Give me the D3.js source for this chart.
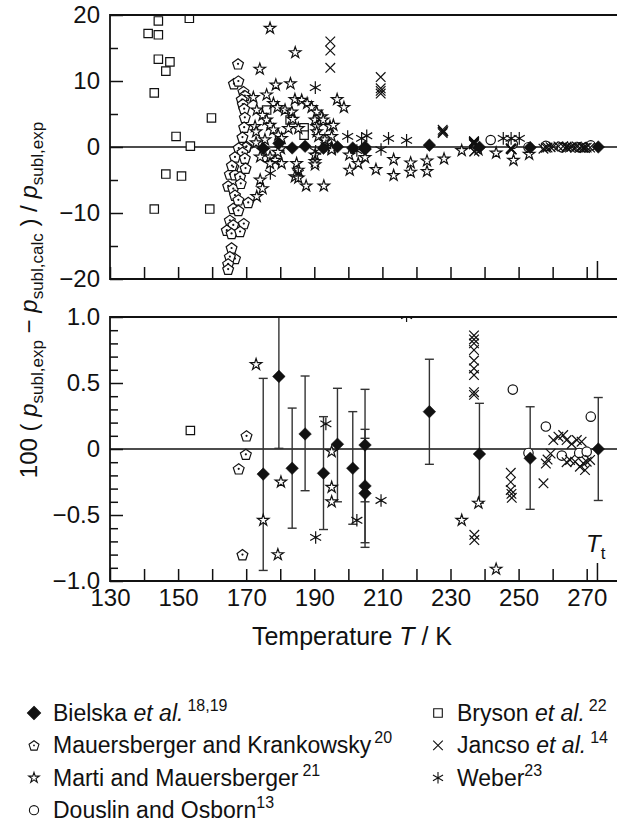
<!DOCTYPE html>
<html>
<head>
<meta charset="utf-8">
<script src="https://cdn.jsdelivr.net/npm/d3@7"></script>
<style>
  body { margin: 0; background: #fff; }
  svg text { font-family: "Liberation Sans", Arial, sans-serif; fill: #111; }
</style>
</head>
<body>
<div id="chart"></div>
<script>
// ---- data: [T / K, 100*(p_exp - p_calc)/p_exp] ----
// Bielska et al. with uncertainty: [T, value, low, high]
var bielska = [
  [175.0, -0.19, -0.92, 0.535], [179.6, 0.55, 0.005, 1.1], [183.5, -0.146, -0.60, 0.31],
  [187.3, 0.114, -0.316, 0.553], [192.7, -0.184, -0.61, 0.245], [196.8, 0.036, -0.40, 0.46],
  [201.3, -0.146, -0.57, 0.283], [204.9, 0.03, -0.40, 0.452], [204.9, -0.28, -0.71, 0.149],
  [204.9, -0.336, -0.745, 0.081], [223.8, 0.283, -0.116, 0.68], [238.5, -0.038, -0.41, 0.346],
  [253.4, -0.07, -0.457, 0.32], [273.4, 0.0, -0.39, 0.39]
];
var mauersberger = [
  [167.6, 12.6], [166.4, 9.6], [167.7, 10.0], [169.2, 8.4], [169.6, 7.8], [168.7, 7.2],
  [169.0, 6.5], [169.4, 5.8], [169.6, 4.5], [169.4, 3.0], [168.9, 1.5], [170.1, 0.1],
  [169.9, -0.04], [167.8, -0.15], [168.9, -0.8], [166.7, -1.5], [169.6, -1.7], [166.2, -3.0],
  [169.8, -3.2], [165.2, -4.1], [166.7, -4.2], [168.2, -4.5], [164.7, -5.9], [166.2, -6.3],
  [168.4, -5.5], [166.7, -7.3], [167.7, -8.0], [170.6, -8.4], [166.2, -9.3], [167.7, -9.6],
  [165.2, -11.1], [166.2, -11.8], [169.3, -11.6], [164.3, -12.6], [165.7, -13.1], [168.2, -12.8],
  [165.7, -15.3], [166.7, -16.9], [165.2, -16.6], [164.7, -17.7], [164.7, -18.5], [165.8, -2.8]
];
var marti = [
  [177.0, 18.0], [184.4, 14.3], [174.0, 11.8], [178.7, 9.4], [183.0, 9.6], [172.1, 7.5],
  [176.0, 7.9], [184.3, 7.2], [186.3, 7.1], [187.9, 6.6], [189.2, 6.0], [190.7, 5.3],
  [192.2, 4.6], [196.7, 7.2], [198.7, 6.0], [173.1, 5.6], [174.8, 4.8], [178.0, 6.6],
  [179.2, 6.0], [181.4, 5.6], [183.4, 5.3], [183.7, 4.2], [172.6, 3.1], [172.9, 2.3],
  [176.0, 4.1], [177.0, 3.3], [178.0, 2.6], [179.4, 1.8], [180.4, 1.3], [182.4, 2.8],
  [185.3, 2.8], [190.2, 4.1], [190.7, 3.1], [190.7, 2.3], [191.2, 1.6], [192.6, 4.1],
  [194.6, 3.1], [195.1, 1.6], [195.6, 3.3], [193.1, 1.1], [175.5, 1.1],
  [172.9, 0.64], [180.2, -0.25], [175.0, -0.54], [179.3, -0.80], [195.1, -0.02],
  [195.1, -0.29], [195.1, -0.40], [174.1, -1.5], [177.0, -1.5], [178.5, -2.0], [177.0, -2.5],
  [180.4, -2.5], [184.8, -2.5], [185.3, -3.5], [184.3, -4.5], [185.3, -4.7], [187.6, -5.9],
  [192.8, -5.9], [190.2, -1.2], [190.2, -2.2], [190.2, -2.7], [174.1, -5.0], [174.8, -6.3],
  [173.1, -7.5], [200.3, -1.2], [202.9, -2.5], [204.9, -1.6], [200.4, -3.5], [208.1, -3.4],
  [213.3, -1.9], [213.3, -4.3], [218.3, -2.4], [218.3, -3.8], [223.1, -2.1], [223.1, -3.7],
  [228.1, -1.8], [233.3, -0.54], [238.2, -0.41], [243.4, -0.91], [248.5, -2.0], [253.1, -1.1]
];
var douslin = [
  [241.8, 1.06], [248.3, 0.45], [252.9, -0.03], [258.0, 0.17], [262.7, -0.05],
  [267.8, -0.03], [270.0, -0.02], [271.2, 0.245]
];
var bryson = [
  [144.2, 19.1], [153.3, 19.5], [141.2, 17.2], [144.2, 17.0], [144.2, 13.3], [147.6, 12.9],
  [146.4, 11.5], [143.0, 8.2], [159.8, 4.4], [149.4, 1.6], [153.6, 0.14], [146.4, -4.1],
  [151.0, -4.4], [143.0, -9.4], [159.3, -9.4], [176.0, 5.6], [182.9, 4.1], [187.0, 2.9],
  [187.0, 1.8]
];
var jancso = [
  [194.7, 16.0], [194.7, 14.6], [194.7, 12.0], [209.5, 10.6], [209.5, 8.9], [209.5, 8.5],
  [209.5, 8.1], [227.7, 2.6], [227.7, 2.3], [227.7, 2.1], [227.9, 2.4],
  [236.9, 0.86], [236.9, 0.83], [236.9, 0.80], [236.9, 0.75], [236.9, 0.67], [236.9, 0.61],
  [236.9, 0.56], [236.9, 0.43], [236.9, 0.41], [237.0, -0.65], [237.0, -0.69],
  [247.7, -0.18], [247.7, -0.25], [247.7, -0.31], [247.9, -0.34], [248.0, -0.37],
  [257.3, -0.26], [258.0, -0.11], [258.5, -0.08], [259.4, -0.035], [260.2, 0.068],
  [261.7, 0.093], [263.1, 0.106], [264.1, 0.068], [265.6, 0.038], [267.1, 0.068],
  [268.5, 0.055], [265.1, -0.083], [266.6, -0.096], [268.0, -0.134], [269.0, -0.108],
  [270.0, -0.096], [271.0, -0.083], [269.5, -0.16], [264.1, -0.10]
];
var weber = [
  [190.3, 9.0], [177.1, -4.0], [185.3, -4.0], [190.4, -0.67], [193.4, 0.19], [199.8, 1.6],
  [203.9, 1.3], [205.4, 1.7], [202.5, -0.54], [209.6, -0.39], [211.8, 1.3], [217.1, 1.01],
  [245.5, 1.3], [247.8, 1.3], [250.2, 1.3]
];

var xTicks = d3.range(130, 271, 10);
var xLabels = [130, 150, 170, 190, 210, 230, 250, 270];
var tripleT = 273.16;
var topMajor = [-20, -10, 0, 10, 20], topMinor = [-15, -5, 5, 15];
var botMajor = [-1, -0.5, 0, 0.5, 1], botMinor = [-0.9, -0.8, -0.7, -0.6, -0.4, -0.3, -0.2, -0.1, 0.1, 0.2, 0.3, 0.4, 0.6, 0.7, 0.8, 0.9];

// ---- layout ----
var width = 617, height = 823;
var left = 110;
var ink = "#111";

var svg = d3.select("#chart").append("svg")
  .attr("width", width).attr("height", height);

var x = d3.scaleLinear().domain([130, 270]).range([left, 586.7]);
var yTop = d3.scaleLinear().domain([-20, 20]).range([279, 15]);
var yBot = d3.scaleLinear().domain([-1, 1]).range([581, 317]);

// marker shapes (half size s)
function shape(type, s) {
  if (type == "diamond") return "M0," + (-s) + "L" + s + ",0L0," + s + "L" + (-s) + ",0Z";
  if (type == "square") return "M" + (-s) + "," + (-s) + "h" + 2 * s + "v" + 2 * s + "h" + (-2 * s) + "Z";
  if (type == "pentagon") {
    var p = d3.range(5).map(function(k) {
      var a = -Math.PI / 2 + k * 2 * Math.PI / 5;
      return [s * Math.cos(a), s * Math.sin(a) + s * 0.1];
    });
    return "M" + p.join("L") + "Z";
  }
  if (type == "cross") return "M" + (-s) + "," + (-s) + "L" + s + "," + s + "M" + s + "," + (-s) + "L" + (-s) + "," + s;
  if (type == "aster") {
    var c = s * 0.87, h = s * 0.5;
    return "M0," + (-s) + "L0," + s + "M" + (-c) + "," + (-h) + "L" + c + "," + h + "M" + c + "," + (-h) + "L" + (-c) + "," + h;
  }
  if (type == "star") return d3.symbol(d3.symbolStar, s * s / 0.89)();
  if (type == "circle") return d3.symbol(d3.symbolCircle, Math.PI * s * s)();
}

function drawMarks(g, y, data, type, s) {
  var fill = (type == "diamond") ? ink : (type == "cross" || type == "aster") ? "none" : "#fff";
  var m = g.append("g");
  m.selectAll("path").data(data).enter().append("path")
    .attr("transform", function(d) { return "translate(" + x(d[0]) + "," + y(d[1]) + ")"; })
    .attr("d", shape(type, s))
    .attr("fill", fill)
    .attr("stroke", ink)
    .attr("stroke-width", type == "diamond" ? 0.5 : 1.2);
  if (type == "pentagon" || type == "aster") {
    m.selectAll("circle").data(data).enter().append("circle")
      .attr("cx", function(d) { return x(d[0]); })
      .attr("cy", function(d) { return y(d[1]); })
      .attr("r", 1.1).attr("fill", ink);
  }
}

function panel(y, major, minor, fmt, showX, id) {
  var r = y.range();
  svg.append("clipPath").attr("id", id).append("rect")
    .attr("x", left).attr("y", r[1]).attr("width", width - left).attr("height", r[0] - r[1]);

  var g = svg.append("g");
  // zero line
  g.append("line")
    .attr("x1", left).attr("x2", width).attr("y1", y(0)).attr("y2", y(0))
    .attr("stroke", ink).attr("stroke-width", 1.5);

  var plot = g.append("g").attr("clip-path", "url(#" + id + ")");

  // y axis ticks (inward)
  g.append("g").attr("transform", "translate(" + left + ",0)")
    .call(d3.axisLeft(y).tickValues(minor).tickSize(-8).tickFormat(""))
    .call(function(a) { a.select(".domain").remove(); a.selectAll("line").attr("stroke", ink).attr("stroke-width", 1.5); });
  g.append("g").attr("transform", "translate(" + left + ",0)")
    .call(d3.axisLeft(y).tickValues(major).tickSize(-13).tickPadding(10).tickFormat(fmt))
    .call(function(a) {
      a.select(".domain").remove();
      a.selectAll("line").attr("stroke", ink).attr("stroke-width", 1.5);
      a.selectAll("text").attr("font-size", 24).attr("font-family", "Liberation Sans, Arial, sans-serif").attr("fill", ink);
    });

  // x axis ticks (inward)
  g.append("g").attr("transform", "translate(0," + r[0] + ")")
    .call(d3.axisBottom(x).tickValues(xTicks).tickSize(-12).tickPadding(8)
      .tickFormat(function(d) { return showX && xLabels.indexOf(d) >= 0 ? d : ""; }))
    .call(function(a) {
      a.select(".domain").remove();
      a.selectAll("line").attr("stroke", ink).attr("stroke-width", 1.5);
      a.selectAll("text").attr("font-size", 24).attr("font-family", "Liberation Sans, Arial, sans-serif").attr("fill", ink);
    });
  // triple point tick
  g.append("line")
    .attr("x1", x(tripleT)).attr("x2", x(tripleT)).attr("y1", r[0]).attr("y2", r[0] - 18)
    .attr("stroke", ink).attr("stroke-width", 1.5);

  // frame: top, left, bottom
  g.append("path")
    .attr("d", "M" + width + "," + r[1] + "H" + left + "V" + r[0] + "H" + width)
    .attr("fill", "none").attr("stroke", ink).attr("stroke-width", 1.8);

  return plot;
}

var fmtTop = function(d) { return d3.format("d")(d).replace("-", "\u2212"); };
var fmtBot = function(d) { return d == 0 ? "0" : d3.format(".1f")(d).replace("-", "\u2212"); };

var plotTop = panel(yTop, topMajor, topMinor, fmtTop, false, "clipTop");
var plotBot = panel(yBot, botMajor, botMinor, fmtBot, true, "clipBot");

// error bars (bottom panel only)
var eb = plotBot.append("g").attr("stroke", "#333").attr("stroke-width", 1.4);
bielska.forEach(function(d) {
  eb.append("line").attr("x1", x(d[0])).attr("x2", x(d[0])).attr("y1", yBot(d[2])).attr("y2", yBot(d[3]));
  eb.append("line").attr("x1", x(d[0]) - 4.5).attr("x2", x(d[0]) + 4.5).attr("y1", yBot(d[2])).attr("y2", yBot(d[2]));
  eb.append("line").attr("x1", x(d[0]) - 4.5).attr("x2", x(d[0]) + 4.5).attr("y1", yBot(d[3])).attr("y2", yBot(d[3]));
});

[[plotTop, yTop], [plotBot, yBot]].forEach(function(p) {
  drawMarks(p[0], p[1], bryson, "square", 4.2);
  drawMarks(p[0], p[1], mauersberger, "pentagon", 5.7);
  drawMarks(p[0], p[1], marti, "star", 6);
  drawMarks(p[0], p[1], douslin, "circle", 4.7);
  drawMarks(p[0], p[1], weber, "aster", 6.3);
  drawMarks(p[0], p[1], jancso, "cross", 4.8);
  drawMarks(p[0], p[1], bielska, "diamond", 6.3);
});

// T_t label
var tt = svg.append("text").attr("x", 586).attr("y", 552).attr("font-size", 24);
tt.append("tspan").attr("font-style", "italic").text("T");
tt.append("tspan").attr("font-size", 17).attr("dy", 7).text("t");

// y title: rich text, subscripts shifted by 6 px
var yt = svg.append("text")
  .attr("transform", "translate(37,300) rotate(-90)")
  .attr("text-anchor", "middle").attr("font-size", 24);
var titleParts = [
  ["100 ( ", ""], ["p", "i"], ["subl,exp", "sub"], [" \u2212 ", ""], ["p", "i"],
  ["subl,calc", "sub"], [" ) / ", ""], ["p", "i"], ["subl,exp", "sub"]
];
var shifted = false;
titleParts.forEach(function(p) {
  var s = yt.append("tspan").text(p[0]);
  if (p[1] == "sub") { s.attr("font-size", 17).attr("dy", 6); shifted = true; }
  else {
    if (shifted) { s.attr("dy", -6); shifted = false; }
    if (p[1] == "i") s.attr("font-style", "italic");
  }
});

// x title
var xt = svg.append("text").attr("x", 352).attr("y", 645).attr("text-anchor", "middle").attr("font-size", 25);
xt.append("tspan").text("Temperature  ");
xt.append("tspan").attr("font-style", "italic").text("T");
xt.append("tspan").text(" / K");

// legend
var legend = [
  {type: "diamond", s: 6.5, x: 34, row: 0, parts: [["Bielska "], ["et al.", "i"], ["18,19", "sup", 4]]},
  {type: "pentagon", s: 5.2, x: 34, row: 1, parts: [["Mauersberger and Krankowsky"], ["20", "sup", 3]]},
  {type: "star", s: 5.5, x: 34, row: 2, parts: [["Marti and Mauersberger"], ["21", "sup", 4]]},
  {type: "circle", s: 4.6, x: 34, row: 3, parts: [["Douslin and Osborn"], ["13", "sup", 0]]},
  {type: "square", s: 4.3, x: 438, row: 0, parts: [["Bryson "], ["et al.", "i"], ["22", "sup", 4]]},
  {type: "cross", s: 4.8, x: 438, row: 1, parts: [["Jancso "], ["et al.", "i"], ["14", "sup", 4]]},
  {type: "aster", s: 5.8, x: 438, row: 2, parts: [["Weber"], ["23", "sup", 0]]}
];
legend.forEach(function(l) {
  var base = 721 + l.row * 32.4;
  var gy = base - 8;
  var lg = svg.append("g");
  var fill = (l.type == "diamond") ? ink : (l.type == "cross" || l.type == "aster") ? "none" : "#fff";
  lg.append("path").attr("transform", "translate(" + l.x + "," + gy + ")")
    .attr("d", shape(l.type, l.s)).attr("fill", fill).attr("stroke", ink).attr("stroke-width", 1.1);
  if (l.type == "pentagon" || l.type == "aster")
    lg.append("circle").attr("cx", l.x).attr("cy", gy).attr("r", 0.9).attr("fill", ink);
  var t = lg.append("text").attr("x", l.x + 19).attr("y", base).attr("font-size", 23);
  l.parts.forEach(function(p) {
    var s = t.append("tspan").text(p[0]);
    if (p[1] == "i") s.attr("font-style", "italic");
    if (p[1] == "sup") s.attr("font-size", 16).attr("dy", -10).attr("dx", p[2]);
  });
});
</script>
</body>
</html>
